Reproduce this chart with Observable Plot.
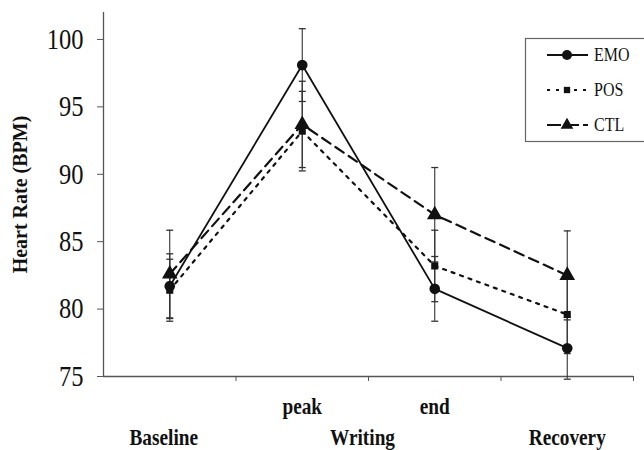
<!DOCTYPE html>
<html>
<head>
<meta charset="utf-8">
<script src="https://cdn.jsdelivr.net/npm/d3@7"></script>
<script src="https://cdn.jsdelivr.net/npm/@observablehq/plot@0.6"></script>
<style>
  html, body { margin: 0; padding: 0; background: #fff; overflow: hidden; }
  #chart { width: 644px; height: 450px; }
</style>
</head>
<body>
<div id="chart"></div>
<script>
// ---- data ----
const categories = ["Baseline", "peak", "end", "Recovery"];
const series = ["EMO", "POS", "CTL"];
const emoValues = [81.7, 98.1, 81.5, 77.1];
const posValues = [81.4, 93.2, 83.2, 79.6];
const ctlValues = [82.6, 93.7, 87.0, 82.5];
const emoErrors = [2.4, 2.7, 2.4, 2.3];
const posErrors = [2.3, 2.95, 2.65, 2.9];
const ctlErrors = [3.25, 3.2, 3.5, 3.3];
const yTicks = [75, 80, 85, 90, 95, 100];
const topLabels = [{label: "peak", pos: 1.5}, {label: "end", pos: 2.5}];
const shiftedLabels = [{label: "Baseline", pos: 0.5}, {label: "Writing", pos: 2}];
const lastLabel = [{label: "Recovery", pos: 3.5}];
const yLabel = "Heart Rate (BPM)";

const values = [emoValues, posValues, ctlValues];
const errors = [emoErrors, posErrors, ctlErrors];
const rows = series.flatMap((s, si) => categories.map((c, i) => ({
  series: s, cat: c, xi: i + 0.5, value: values[si][i], err: errors[si][i]
})));
const bySeries = s => rows.filter(d => d.series === s);

const capSymbol = {
  draw(ctx, size) {
    const w = Math.sqrt(size / Math.PI);
    ctx.moveTo(-w, 0); ctx.lineTo(w, 0);
  }
};

const font = "Liberation Serif";

const plot = Plot.plot({
  width: 644,
  height: 450,
  marginLeft: 103,
  marginRight: 11,
  marginTop: 12,
  marginBottom: 74,
  style: {fontFamily: font, background: "#fff", color: "#111"},
  x: {type: "linear", domain: [0, 4]},
  y: {domain: [75, 102]},
  marks: [
    Plot.ruleX([0], {stroke: "#555", strokeWidth: 1.3}),
    Plot.ruleY([75], {stroke: "#555", strokeWidth: 1.6}),
    Plot.axisY({ticks: yTicks, tickSize: 6, tickPadding: 14, fontSize: 24.5, fontFamily: font, label: null, stroke: "#555", fill: "#111"}),
    Plot.axisX({ticks: [1, 2, 3, 4], tickFormat: () => "", tickSize: 5, label: null, stroke: "#555"}),
    // error bars
    Plot.ruleX(rows, {x: "xi", y1: d => d.value - d.err, y2: d => d.value + d.err, stroke: "#333", strokeWidth: 1.1}),
    Plot.dot(rows, {x: "xi", y: d => d.value - d.err, symbol: capSymbol, r: 3.5, stroke: "#333", strokeWidth: 1.3}),
    Plot.dot(rows, {x: "xi", y: d => d.value + d.err, symbol: capSymbol, r: 3.5, stroke: "#333", strokeWidth: 1.3}),
    // lines
    Plot.line(bySeries("CTL"), {x: "xi", y: "value", stroke: "#111", strokeWidth: 2.2, strokeDasharray: "10,6"}),
    Plot.line(bySeries("POS"), {x: "xi", y: "value", stroke: "#111", strokeWidth: 2.2, strokeDasharray: "3,6"}),
    Plot.line(bySeries("EMO"), {x: "xi", y: "value", stroke: "#111", strokeWidth: 1.8}),
    // markers
    Plot.dot(bySeries("POS"), {x: "xi", y: "value", symbol: "square", r: 4, fill: "#111"}),
    Plot.dot(bySeries("CTL"), {x: "xi", y: "value", symbol: "triangle", r: 5.8, fill: "#111"}),
    Plot.dot(bySeries("EMO"), {x: "xi", y: "value", symbol: "circle", r: 5.3, fill: "#111"}),
    // category labels
    Plot.text(topLabels, {x: "pos", frameAnchor: "bottom", lineAnchor: "middle", text: "label", dy: 30, fontSize: 19.3, fontWeight: "bold", fontFamily: font, fill: "#111"}),
    Plot.text(shiftedLabels, {x: "pos", frameAnchor: "bottom", lineAnchor: "middle", text: "label", dy: 61, dx: -6, fontSize: 19.3, fontWeight: "bold", fontFamily: font, fill: "#111"}),
    Plot.text(lastLabel, {x: "pos", frameAnchor: "bottom", lineAnchor: "middle", text: "label", dy: 61, fontSize: 19.3, fontWeight: "bold", fontFamily: font, fill: "#111"}),
    Plot.text([yLabel], {frameAnchor: "left", textAnchor: "middle", lineAnchor: "middle", rotate: -90, dx: -83, fontSize: 20, fontWeight: "bold", fontFamily: font, fill: "#111"})
  ]
});

document.getElementById("chart").appendChild(plot);

// legend
const svg = d3.select(plot);
const lg = svg.append("g").attr("font-family", font);
lg.append("rect").attr("x", 525.5).attr("y", 38.5).attr("width", 200).attr("height", 103)
  .attr("fill", "#fff").attr("stroke", "#666").attr("stroke-width", 1.2);
const legendItems = [
  {name: "EMO", dash: null, sym: d3.symbolCircle, size: Math.PI * 25},
  {name: "POS", dash: "3,6", sym: d3.symbolSquare, size: 40},
  {name: "CTL", dash: "14,4", sym: d3.symbolTriangle, size: 70}
];
legendItems.forEach((it, i) => {
  const cy = 55 + i * 35;
  lg.append("line").attr("x1", 547).attr("x2", 588).attr("y1", cy).attr("y2", cy)
    .attr("stroke", "#111").attr("stroke-width", 1.8).attr("stroke-dasharray", it.dash);
  lg.append("path").attr("d", d3.symbol(it.sym, it.size)()).attr("transform", `translate(567,${cy})`).attr("fill", "#111");
  lg.append("text").attr("transform", `translate(594,${cy + 6})`).attr("text-anchor", "start")
    .attr("font-size", 16).attr("fill", "#111").text(it.name);
});

// the reference lettering is vertically stretched: apply a matching stretch (not to the rotated axis title)
svg.selectAll("text").each(function() {
  const t = d3.select(this);
  if (t.text() === yLabel) return;
  const tr = t.attr("transform") || "";
  t.attr("transform", tr + " scale(1,1.18)");
});
</script>
</body>
</html>
